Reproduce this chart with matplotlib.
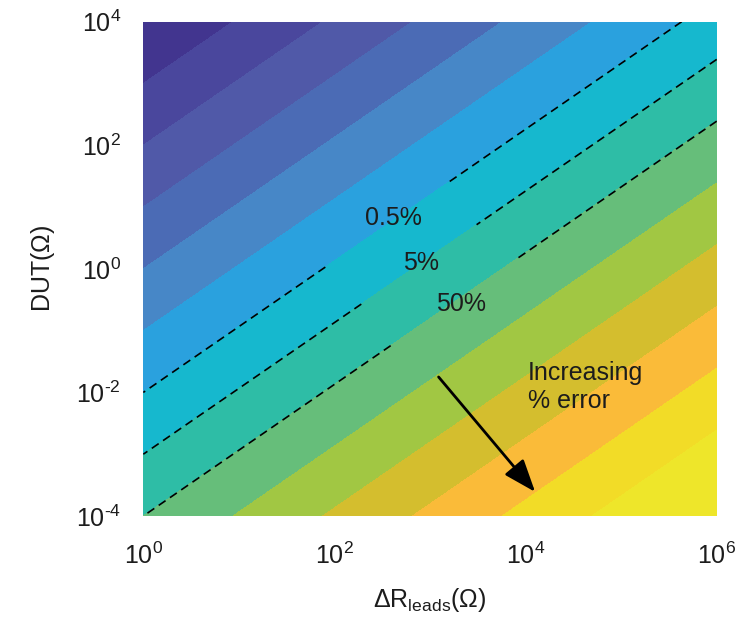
import numpy as np
import matplotlib
matplotlib.use("Agg")
import matplotlib.pyplot as plt
from matplotlib.colors import ListedColormap
from matplotlib.ticker import NullLocator

plt.rcParams['font.family'] = ['Liberation Sans', 'DejaVu Sans']
plt.rcParams['mathtext.fontset'] = 'custom'
plt.rcParams['mathtext.rm'] = 'Liberation Sans'
plt.rcParams['mathtext.it'] = 'Liberation Sans'
plt.rcParams['mathtext.bf'] = 'Liberation Sans'

# --- data ---
dr_range = [1e0, 1e6]        # delta R leads, ohm
dut_range = [1e-4, 1e4]      # DUT, ohm
err_at_unity = 0.005         # % error where dR == DUT
dr_power = 1.065             # slope of the bands in log-log

pct_levels = [5e-7, 5e-6, 5e-5, 5e-4, 5e-3, 5e-2, 0.5, 5, 50,
              500, 5e3, 5e4, 5e5, 5e6, 5e7]
band_colors = ['#42358f', '#4a479d', '#5059a8', '#4b6bb5', '#4787c7',
               '#2aa1de', '#16b8ce', '#2ebda6', '#66be7a', '#a1c743',
               '#d4be2e', '#fabb39', '#f2dc27', '#eee62a']

dashed_levels = [0.5, 5, 50]
dashed_text = ['0.5%', '5%', '50%']

xtick_vals = [1e0, 1e2, 1e4, 1e6]
xtick_text = ['$10^{0}$', '$10^{2}$', '$10^{4}$', '$10^{6}$']
ytick_vals = [1e-4, 1e-2, 1e0, 1e2, 1e4]
ytick_text = ['$10^{\u20104}$', '$10^{\u20102}$', '$10^{0}$', '$10^{2}$', '$10^{4}$']

# label placement (log10 coords) and gap sizes around each label
gap_centres = [(2.555, 0.72), (2.885, 0.07), (3.235, -0.555)]
label_centres = [(2.62, 0.82), (2.91, 0.10), (3.32, -0.57)]
gap_spacing = [47, 52, 50]

# --- field ---
dr = np.logspace(np.log10(dr_range[0]), np.log10(dr_range[1]), 500)
dut = np.logspace(np.log10(dut_range[0]), np.log10(dut_range[1]), 500)
DR, DUT = np.meshgrid(dr, dut)
ERR = err_at_unity * DR ** dr_power / DUT
Z = np.log10(ERR)

fig = plt.figure(figsize=(7.44, 6.29), dpi=100)
ax = fig.add_axes([143.3 / 744, 113 / 629, 573.4 / 744, 494.3 / 629])
ax.set_xscale('log')
ax.set_yscale('log')
ax.set_xlim(dr_range)
ax.set_ylim(dut_range)

cmap = ListedColormap(band_colors)
cmap.set_over(band_colors[-1])
cmap.set_under(band_colors[0])
ax.contourf(DR, DUT, Z, levels=np.log10(pct_levels), cmap=cmap, extend='both',
            antialiased=False)

# dashed iso-error lines, one contour set each so every label gets its own gap
for i, txt in enumerate(dashed_text):
    cs = ax.contour(DR, DUT, Z, levels=[np.log10(dashed_levels[i])], colors='k',
                    linewidths=1.2, linestyles=[(0, (5, 3.2))])
    lev = cs.levels[0]
    gx, gy = gap_centres[i]
    ax.clabel(cs, inline=True, inline_spacing=gap_spacing[i],
              fmt={lev: txt}, manual=[(10 ** gx, 10 ** gy)], fontsize=18,
              colors='#1c1c1c')
    lab = cs.labelTexts[-1]
    lab.set_rotation(0)
    lx, ly = label_centres[i]
    lab.set_position((10 ** lx, 10 ** ly))
    lab.set_ha('center')
    lab.set_va('center')

# arrow and note
ax.annotate('', xy=(10 ** 4.10, 10 ** -3.61), xytext=(10 ** 3.09, 10 ** -1.75),
            arrowprops=dict(arrowstyle='-|>,head_length=0.8,head_width=0.3',
                            color='k', lw=2, mutation_scale=25,
                            shrinkA=0, shrinkB=0))
ax.text(10 ** 4.025, 10 ** -1.49, 'Increasing\n% error', fontsize=18,
        color='#1c1c1c', ha='left', va='top', linespacing=1.2)

ax.set_xticks(xtick_vals, labels=xtick_text)
ax.set_yticks(ytick_vals, labels=ytick_text)
ax.xaxis.set_minor_locator(NullLocator())
ax.yaxis.set_minor_locator(NullLocator())
ax.tick_params(axis='both', length=0, labelsize=18, colors='#1c1c1c')
ax.tick_params(axis='x', pad=19)
ax.tick_params(axis='y', pad=16)
for sp in ax.spines.values():
    sp.set_visible(False)

ax.set_xlabel(r'$\mathrm{\Delta R}_{\mathrm{leads}}\mathrm{(\Omega)}$', fontsize=18,
              color='#1c1c1c')
ax.set_ylabel(r'$\mathrm{DUT(\Omega)}$', fontsize=18, color='#1c1c1c')
ax.xaxis.set_label_coords(0.5, -0.17)
ax.yaxis.set_label_coords(-0.175, 0.5)
ax.xaxis.label.set_va('center')
ax.yaxis.label.set_va('center')

fig.savefig('out.png', dpi=100)
